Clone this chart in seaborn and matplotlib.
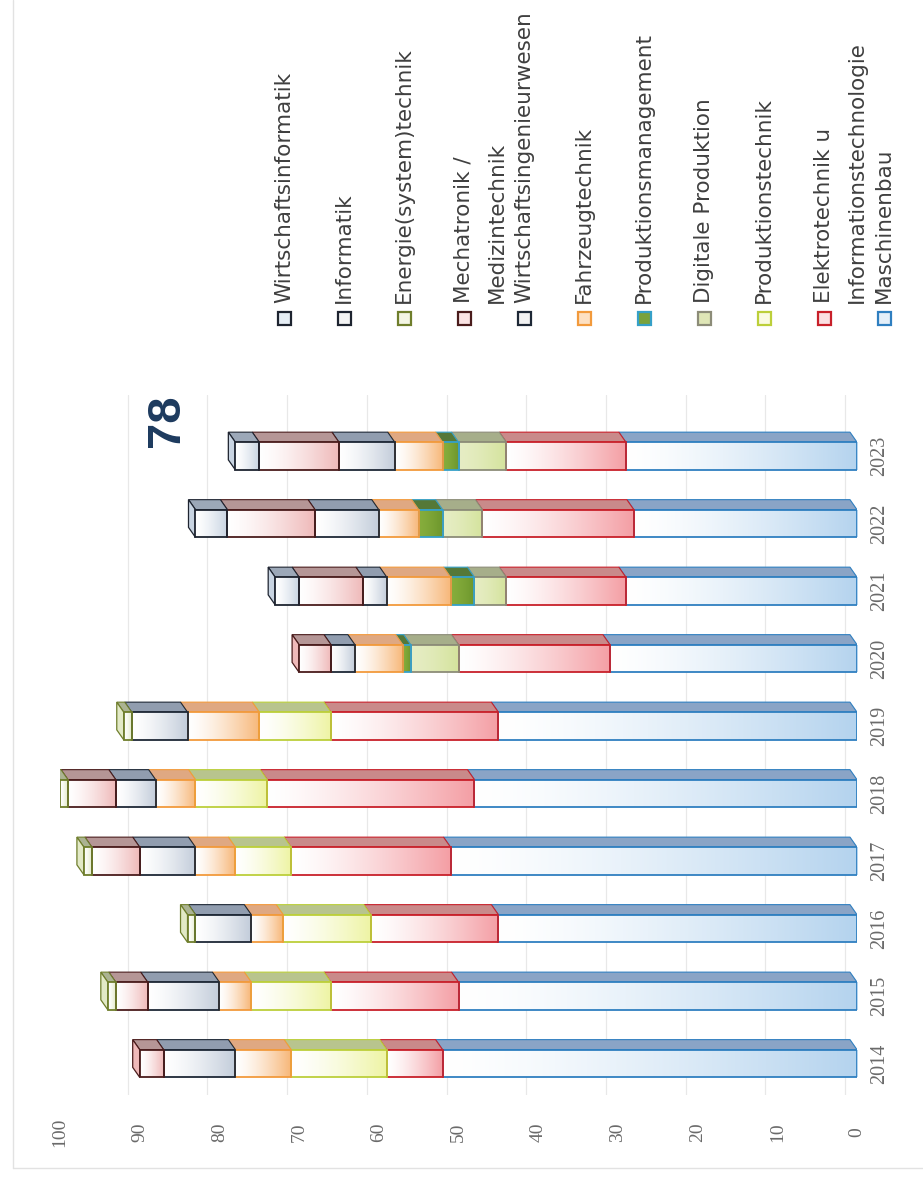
import numpy as np
import matplotlib
matplotlib.use("Agg")
import matplotlib.pyplot as plt
import matplotlib.transforms as mtransforms
from matplotlib.patches import Polygon, Rectangle
from matplotlib.lines import Line2D
import seaborn as sns

# ---- data: students per programme and year ----
years = ["2014", "2015", "2016", "2017", "2018", "2019", "2020", "2021", "2022", "2023"]
maschinenbau = [52, 50, 45, 51, 48, 45, 31, 29, 28, 29]
elektrotechnik = [7, 16, 16, 20, 26, 21, 19, 15, 19, 15]
produktionstechnik = [12, 10, 11, 7, 9, 9, 0, 0, 0, 0]
digitale_produktion = [0, 0, 0, 0, 0, 0, 6, 4, 5, 6]
produktionsmanagement = [0, 0, 0, 0, 0, 0, 1, 3, 3, 2]
fahrzeugtechnik = [7, 4, 4, 5, 5, 9, 6, 8, 5, 6]
wirtschaftsingenieurwesen = [9, 9, 7, 7, 5, 7, 3, 3, 8, 7]
mechatronik = [3, 4, 0, 6, 6, 0, 4, 8, 11, 10]
energietechnik = [0, 1, 1, 1, 1, 1, 0, 0, 0, 0]
informatik = [0, 0, 0, 0, 0, 0, 0, 3, 4, 3]
wirtschaftsinformatik = [0, 0, 0, 0, 0, 0, 0, 0, 0, 0]
value_ticks = list(range(0, 101, 10))

# stacking order from the baseline outwards
series = [
    (["Maschinenbau"], maschinenbau),
    (["Elektrotechnik u", "Informationstechnologie"], elektrotechnik),
    (["Produktionstechnik"], produktionstechnik),
    (["Digitale Produktion"], digitale_produktion),
    (["Produktionsmanagement"], produktionsmanagement),
    (["Fahrzeugtechnik"], fahrzeugtechnik),
    (["Wirtschaftsingenieurwesen"], wirtschaftsingenieurwesen),
    (["Mechatronik /", "Medizintechnik"], mechatronik),
    (["Energie(system)technik"], energietechnik),
    (["Informatik"], informatik),
    (["Wirtschaftsinformatik"], wirtschaftsinformatik),
]

# edge, light end of the front gradient, saturated end, top face, legend fill
styles = [
    ("#2f7fc0", "#ffffff", "#b4d3ee", "#8aa4c6", "#e4eff9"),
    ("#c8202a", "#ffffff", "#f49ea4", "#c98a8a", "#fbe0e2"),
    ("#bccf3a", "#ffffff", "#eef4a4", "#b8c48e", "#fafbe2"),
    ("#8c8c78", "#e6edc4", "#d4e39c", "#a6ae8a", "#dfe6b6"),
    ("#35a0c8", "#86ad3c", "#6c962c", "#557838", "#79a23c"),
    ("#f29a3c", "#ffffff", "#f7b779", "#dfa882", "#fde0c2"),
    ("#1e2836", "#ffffff", "#c2ccda", "#919daf", "#f2f2f2"),
    ("#4a1c1c", "#ffffff", "#efb9b9", "#b59696", "#fbe4e4"),
    ("#6f7e2c", "#ffffff", "#e2e9c6", "#abb392", "#f4f6e4"),
    ("#1e2430", "#ffffff", "#c8d4e2", "#9ca8b8", "#f4f4f4"),
    ("#1e2430", "#ffffff", "#d2e2ec", "#a0b2c2", "#e6eef5"),
]

sns.set_theme(style="white")
plt.rcParams["font.family"] = ["DejaVu Sans"]

W, H = 923, 1177
fig = plt.figure(figsize=(W / 100, H / 100), dpi=100)
fig.patch.set_facecolor("white")


def fx(px):
    return px / W


def fy(py):
    return 1 - py / H


ax = fig.add_axes([fx(60), fy(1095), (857 - 60) / W, (1095 - 395) / H])
XLIM = (100, 0)
YLIM = (-0.467, 9.904)
ax.set_xlim(*XLIM)
ax.set_ylim(*YLIM)
ax.set_facecolor("white")
sns.despine(ax=ax, left=True, bottom=True, right=True, top=True)

# pixel sizes expressed in data units (x axis runs from 100 on the left to 0)
ux = (XLIM[0] - XLIM[1]) / ax.bbox.width
uy = (YLIM[1] - YLIM[0]) / ax.bbox.height
depth_dx = 7 * ux      # back face shifted to the left
depth_dy = 10 * uy     # and upwards
bar_h = 27.7 * uy

# back-wall gridlines, shifted by the depth of the 3D box
grid_tr = ax.get_xaxis_transform() + mtransforms.ScaledTranslation(-12 / 100, 0, fig.dpi_scale_trans)
for v in value_ticks:
    ax.add_line(Line2D([v, v], [0, 1], transform=grid_tr, color="#e8e8e8", lw=0.9, zorder=0))

ypos = np.arange(len(years))
left = np.zeros(len(years))
top_series = [None] * len(years)
g = np.linspace(0, 1, 256)

for k, (label, vals) in enumerate(series):
    edge, c_light, c_dark, c_top, _ = styles[k]
    vals = np.asarray(vals, dtype=float)
    idx = np.nonzero(vals > 0)[0]
    if len(idx):
        bars = ax.barh(ypos[idx], vals[idx], left=left[idx], height=bar_h,
                       facecolor="none", edgecolor=edge, linewidth=1.3, zorder=4)
        lo = np.array(matplotlib.colors.to_rgb(c_light))
        hi = np.array(matplotlib.colors.to_rgb(c_dark))
        w = (1 - g) ** 1.4
        img = (hi[None, :] * w[:, None] + lo[None, :] * (1 - w[:, None]))[None, :, :]
        for i, rect in zip(idx, bars.patches):
            x0 = left[i]
            x1 = left[i] + vals[i]
            yb = ypos[i] - bar_h / 2
            yt = ypos[i] + bar_h / 2
            im = ax.imshow(img, extent=(x0, x1, yb, yt), aspect="auto",
                           origin="lower", interpolation="bilinear", zorder=3)
            im.set_clip_path(rect)
            top = Polygon([(x0, yt), (x1, yt), (x1 + depth_dx, yt + depth_dy),
                           (x0 + depth_dx, yt + depth_dy)],
                          closed=True, facecolor=c_top, edgecolor=edge, lw=0.8, zorder=2)
            ax.add_patch(top)
            top_series[i] = k
    left = left + vals

# side face at the outer end of each column
for i in range(len(years)):
    k = top_series[i]
    edge, _, c_dark, c_top, _ = styles[k]
    xe = left[i]
    yb = ypos[i] - bar_h / 2
    yt = ypos[i] + bar_h / 2
    side = Polygon([(xe, yb), (xe, yt), (xe + depth_dx, yt + depth_dy), (xe + depth_dx, yb + depth_dy)],
                   closed=True, facecolor=c_dark, edgecolor=edge, lw=0.9, zorder=2)
    ax.add_patch(side)

ax.set_xlim(*XLIM)
ax.set_ylim(*YLIM)

# value axis at the bottom, year axis on the right, both rotated
ax.set_xticks(value_ticks)
ax.set_xticklabels([str(v) for v in value_ticks], rotation=90, va="center", ha="center",
                   fontsize=14, color="#6a6a6a", family="Liberation Serif")
ax.tick_params(axis="x", length=0, pad=26.6)
ax.yaxis.tick_right()
ax.set_yticks(ypos)
ax.set_yticklabels(years, rotation=90, va="center", ha="center",
                   fontsize=14.5, color="#6a6a6a", family="Liberation Serif")
ax.tick_params(axis="y", length=0, pad=16.6)
ax.grid(False)

# total of the latest year
fig.text(fx(167), fy(421), f"{int(left[-1])}", rotation=90, ha="center", va="center",
         fontsize=34, fontweight="bold", color="#1d3a5e", family="Liberation Sans")

# rotated legend along the top
legend_entries = list(range(len(series)))[::-1]
for n, k in enumerate(legend_entries):
    lines, _ = series[k]
    edge, _, _, _, fill = styles[k]
    xc = 284 + 60 * n
    sq = 13
    fig.add_artist(Rectangle((fx(xc - sq / 2), fy(318 + sq / 2)), sq / W, sq / H,
                             transform=fig.transFigure, facecolor=fill, edgecolor=edge, lw=1.6))
    for j, line in enumerate(lines):
        fig.text(fx(xc + 33 * j), fy(303), line, rotation=90, ha="center", va="bottom",
                 fontsize=15.5, color="#3f3f3f", family="DejaVu Sans")

# faint outline of the chart area
fig.add_artist(Line2D([fx(13), fx(13)], [fy(0), fy(1168)], transform=fig.transFigure,
                      color="#e2e2e2", lw=1))
fig.add_artist(Line2D([fx(13), fx(923)], [fy(1168), fy(1168)], transform=fig.transFigure,
                      color="#e2e2e2", lw=1))

fig.savefig("out.png", dpi=100, facecolor="white")
